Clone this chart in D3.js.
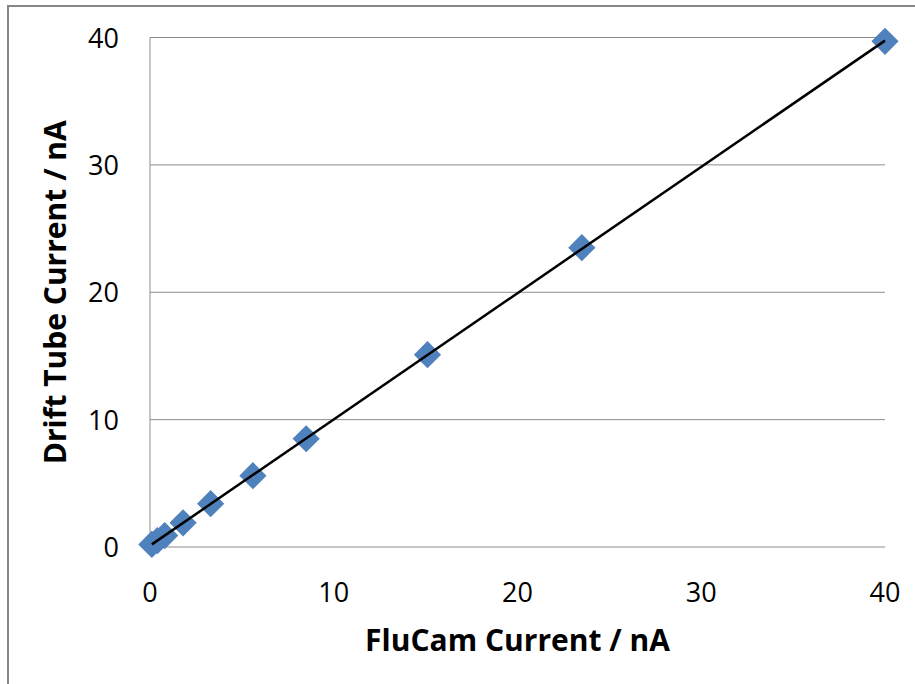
<!DOCTYPE html>
<html>
<head>
<meta charset="utf-8">
<script src="https://cdn.jsdelivr.net/npm/d3@7"></script>
<style>
  body { margin: 0; background: #fff; }
  text { font-family: "Open Sans", "Noto Sans", sans-serif; }
</style>
</head>
<body>
<div id="chart"></div>
<script>
// measured values, FluCam vs drift tube (nA)
var flucam = [0.1, 0.4, 0.8, 1.8, 3.3, 5.6, 8.5, 15.1, 23.5, 40.0];
var drift  = [0.2, 0.5, 0.9, 1.9, 3.4, 5.6, 8.5, 15.1, 23.5, 39.7];
var xTicks = [0, 10, 20, 30, 40];
var yTicks = [0, 10, 20, 30, 40];

var width = 915, height = 684;
var plotL = 150, plotR = 885, plotT = 37.5, plotB = 547;

var svg = d3.select("#chart").append("svg")
    .attr("width", width)
    .attr("height", height);

// outer frame (cut off on right/bottom)
svg.append("rect")
    .attr("x", 8).attr("y", 6)
    .attr("width", 950).attr("height", 720)
    .style("fill", "none")
    .style("stroke", "#878787")
    .style("stroke-width", 2);

var xScale = d3.scaleLinear().domain([0, 40]).range([plotL, plotR]);
var yScale = d3.scaleLinear().domain([0, 40]).range([plotB, plotT]);

// gridlines
svg.selectAll(".grid").data(yTicks).enter().append("line")
    .attr("x1", plotL).attr("x2", plotR)
    .attr("y1", d => yScale(d)).attr("y2", d => yScale(d))
    .style("stroke", "#8c8c8c")
    .style("stroke-width", 1);

svg.append("line")
    .attr("x1", plotL).attr("x2", plotL)
    .attr("y1", plotT).attr("y2", plotB)
    .style("stroke", "#8c8c8c")
    .style("stroke-width", 1);

// tick labels
svg.selectAll(".ylab").data(yTicks).enter().append("text")
    .attr("x", 119)
    .attr("y", d => yScale(d) + 10)
    .attr("text-anchor", "end")
    .style("font-size", "27px")
    .text(d => d);

svg.selectAll(".xlab").data(xTicks).enter().append("text")
    .attr("x", d => xScale(d))
    .attr("y", 602)
    .attr("text-anchor", "middle")
    .style("font-size", "27px")
    .text(d => d);

// axis titles
svg.append("text")
    .attr("x", (plotL + plotR) / 2)
    .attr("y", 651)
    .attr("text-anchor", "middle")
    .style("font-size", "30px")
    .style("font-weight", "bold")
    .text("FluCam Current / nA");

svg.append("text")
    .attr("transform", "translate(66," + ((plotT + plotB) / 2) + ") rotate(-90)")
    .attr("text-anchor", "middle")
    .style("font-size", "30px")
    .style("font-weight", "bold")
    .text("Drift Tube Current / nA");

var data = flucam.map((d, i) => ({x: d, y: drift[i]}));

// markers
svg.selectAll(".pt").data(data).enter().append("path")
    .attr("d", d3.symbol().type(d3.symbolSquare).size(370))
    .attr("transform", d => "translate(" + xScale(d.x) + "," + yScale(d.y) + ") rotate(45)")
    .style("fill", "#4f81bd");

// linear trendline
var mx = d3.mean(data, d => d.x), my = d3.mean(data, d => d.y);
var slope = d3.sum(data, d => (d.x - mx) * (d.y - my)) / d3.sum(data, d => (d.x - mx) * (d.x - mx));
var icpt = my - slope * mx;
var x0 = d3.min(flucam), x1 = d3.max(flucam);
svg.append("line")
    .attr("x1", xScale(x0)).attr("y1", yScale(slope * x0 + icpt))
    .attr("x2", xScale(x1)).attr("y2", yScale(slope * x1 + icpt))
    .style("stroke", "#000")
    .style("stroke-width", 2.5);
</script>
</body>
</html>
